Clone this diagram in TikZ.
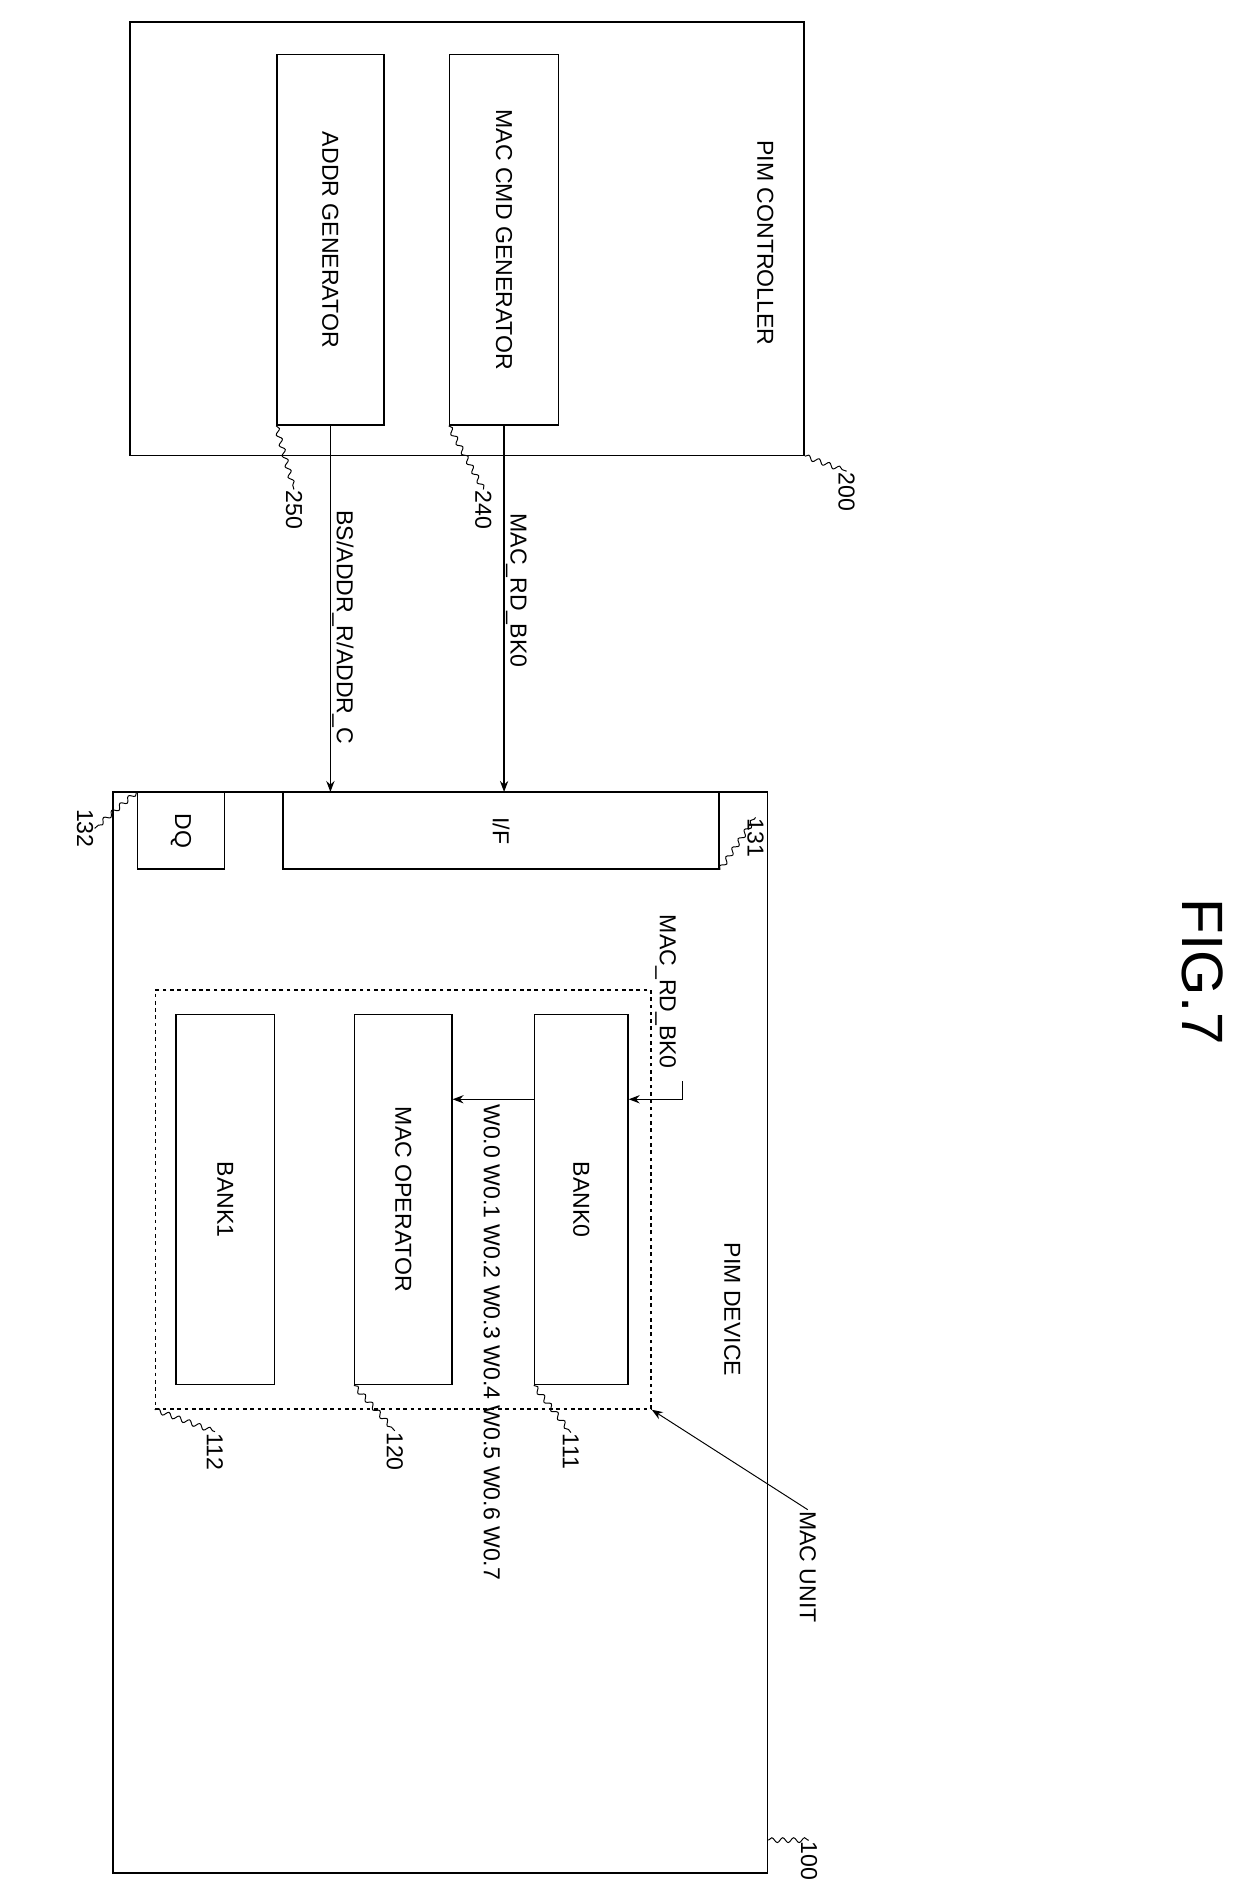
\documentclass[tikz,border=0pt]{standalone}
\usepackage{fontspec}
\setmainfont{Liberation Sans}
\usetikzlibrary{positioning,arrows.meta,decorations.pathmorphing}
\tikzset{
	every picture/.style={/utils/exec={\fontsize{19}{19}\selectfont}},
	blk/.style={draw, line width=1.2pt, inner sep=0pt},
	txt/.style={rotate=-90, inner sep=1pt},
	ref/.style={rotate=-90, inner sep=1pt},
	wig/.style={line width=0.8pt, decorate, decoration={snake, amplitude=2pt, segment length=9pt}},
	sig/.style={line width=1.2pt, -{Stealth[length=9pt]}},
}
\begin{document}
\begin{tikzpicture}[x=1pt, y=-1pt]
	\useasboundingbox (0,0) rectangle (1024,1556);
	% controller
	\node[blk, minimum width=555, minimum height=357] (ctrl) at (384.5,196.5) {};
	\node[txt] (ctrltxt) at (630,200) {PIM CONTROLLER};
	\node[blk, minimum width=90, minimum height=305] (cmdgen) at (415,197.5) {};
	\node[txt] at (cmdgen) {MAC CMD GENERATOR};
	\node[blk, minimum width=88, minimum height=305] (addrgen) at (272,197.5) {};
	\node[txt] at (addrgen) {ADDR GENERATOR};
	\node[ref] (n200) at (697,405) {200};
	\node[ref] (n240) at (398,420) {240};
	\node[ref] (n250) at (242,420) {250};
	\draw[wig] (ctrl.south east) -- (n200.west);
	\draw[wig] (cmdgen.south west) -- (n240.west);
	\draw[wig] (addrgen.south west) -- (n250.west);
	% device
	\node[blk, minimum width=539, minimum height=890] (dev) at (362.5,1097) {};
	\node[blk, minimum width=359, minimum height=63, anchor=north] (ifc) at (412.5,652) {};
	\node[txt] at (ifc) {I/F};
	\node[blk, minimum width=72, minimum height=63, anchor=north] (dq) at (149,652) {};
	\node[txt] at (dq) {DQ};
	\node[ref] (n131) at (622,690) {131};
	\node[ref] (n132) at (70,682) {132};
	\draw[wig] (ifc.south east) -- (n131.west);
	\draw[wig] (dq.north west) -- (n132.north);
	% signals
	\draw[sig] (cmdgen.south) -- (cmdgen.south |- ifc.north) node[pos=0.45, txt, anchor=south] {MAC\_RD\_BK0};
	\draw[sig] (addrgen.south) -- (addrgen.south |- ifc.north) node[pos=0.55, txt, anchor=south] {BS/ADDR\_R/ADDR\_C};
	% mac unit
	\node[draw, dashed, line width=1.2pt, minimum width=408, minimum height=345] (macunit) at (332,987.5) {};
	\node[blk, minimum width=77, minimum height=305] (bank0) at (478.5,987.5) {};
	\node[txt] at (bank0) {BANK0};
	\node[blk, minimum width=80, minimum height=305] (macop) at (332,987.5) {};
	\node[txt] at (macop) {MAC OPERATOR};
	\node[blk, minimum width=81, minimum height=305] (bank1) at (185.5,987.5) {};
	\node[txt] at (bank1) {BANK1};
	\node[txt, anchor=west] (rdtxt) at (548,752) {MAC\_RD\_BK0};
	\coordinate (rdin) at (562,890);
	\draw[line width=1.2pt] (rdin) |- (536,905);
	\draw[sig] (536,905) -- (bank0.east |- 0,905);
	\draw[sig] (bank0.west |- 0,905) -- (macop.east |- 0,905);
	\node[txt, anchor=west] (wtxt) at (405,908) {W0.0 W0.1 W0.2 W0.3 W0.4 W0.5 W0.6 W0.7};
	\node[txt] (devtxt) at (603,1078) {PIM DEVICE};
	\node[txt] (mactxt) at (665,1290) {MAC UNIT};
	\draw[line width=0.8pt, -{Stealth[length=9pt]}] (mactxt.west) -- (macunit.south east);
	\node[ref] (n111) at (470,1195) {111};
	\node[ref] (n120) at (325,1195) {120};
	\node[ref] (n112) at (177,1195) {112};
	\node[ref] (n100) at (666,1532) {100};
	\draw[wig] (bank0.south west) -- (n111.west);
	\draw[wig] (macop.south west) -- (n120.west);
	\draw[wig] (macunit.south west) -- (n112.west);
	\draw[wig] (dev.east |- n100.west) -- (n100.west);
	\node[txt, font=\fontsize{48}{48}\selectfont] (fig) at (990,800) {FIG.7};
\end{tikzpicture}
\end{document}
